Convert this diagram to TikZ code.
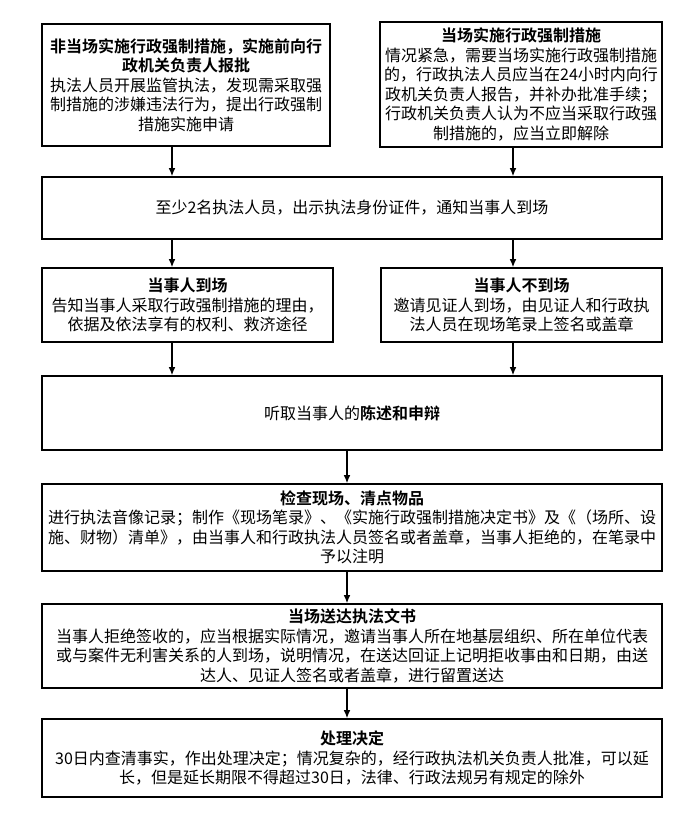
\documentclass[tikz,border=0pt]{standalone}
\usepackage{fontspec}
\setmainfont{Noto Sans CJK SC}[BoldFont={Noto Sans CJK SC Bold}]
\usetikzlibrary{arrows.meta}

\begin{document}
\begin{tikzpicture}[x=0.75pt,y=-0.75pt,
	box/.style={draw,line width=1.2pt,align=center,inner sep=0pt,font=\fontsize{12pt}{14.6pt}\selectfont},
	boxsize/.style 2 args={minimum width=#1*0.75pt,minimum height=#2*0.75pt},
	arr/.style={-{Latex[length=6pt,width=5pt]},line width=0.9pt}]
	\useasboundingbox (0,0) rectangle (689,816);
	% two ways in
	\node[box,boxsize={288}{122}] (pre) at (186,85) {\textbf{非当场实施行政强制措施，实施前向行}\\\textbf{政机关负责人报批}\\执法人员开展监管执法，发现需采取强\\制措施的涉嫌违法行为，提出行政强制\\措施实施申请};
	\node[box,boxsize={282}{125}] (spot) at (521,84.5) {\textbf{当场实施行政强制措施}\\情况紧急，需要当场实施行政强制措施\\的，行政执法人员应当在24小时内向行\\政机关负责人报告，并补办批准手续；\\行政机关负责人认为不应当采取行政强\\制措施的，应当立即解除};
	\node[box,boxsize={620}{62}] (notify) at (352,208) {至少2名执法人员，出示执法身份证件，通知当事人到场};
	% party there or not
	\node[box,boxsize={291}{74}] (present) at (187.5,305) {\textbf{当事人到场}\\告知当事人采取行政强制措施的理由，\\依据及依法享有的权利、救济途径};
	\node[box,boxsize={281}{74}] (absent) at (521.5,305) {\textbf{当事人不到场}\\邀请见证人到场，由见证人和行政执\\法人员在现场笔录上签名或盖章};
	\node[box,boxsize={620}{74}] (hear) at (352,413) {听取当事人的\textbf{陈述和申辩}};
	\node[box,boxsize={620}{87}] (check) at (352,527.5) {\textbf{检查现场、清点物品}\\进行执法音像记录；制作《现场笔录》、《实施行政强制措施决定书》及《（场所、设\\施、财物）清单》，由当事人和行政执法人员签名或者盖章，当事人拒绝的，在笔录中\\予以注明};
	\node[box,boxsize={620}{84}] (serve) at (352,646) {\textbf{当场送达执法文书}\\当事人拒绝签收的，应当根据实际情况，邀请当事人所在地基层组织、所在单位代表\\或与案件无利害关系的人到场，说明情况，在送达回证上记明拒收事由和日期，由送\\达人、见证人签名或者盖章，进行留置送达};
	\node[box,boxsize={620}{78}] (decide) at (352,758) {\textbf{处理决定}\\30日内查清事实，作出处理决定；情况复杂的，经行政执法机关负责人批准，可以延\\长，但是延长期限不得超过30日，法律、行政法规另有规定的除外};
	% arrows
	\coordinate (lx) at (172,0);
	\coordinate (rx) at (513,0);
	\coordinate (mx) at (347,0);
	\draw[arr] (pre.south -| lx) -- (notify.north -| lx);
	\draw[arr] (spot.south -| rx) -- (notify.north -| rx);
	\draw[arr] (notify.south -| lx) -- (present.north -| lx);
	\draw[arr] (notify.south -| rx) -- (absent.north -| rx);
	\draw[arr] (present.south -| lx) -- (hear.north -| lx);
	\draw[arr] (absent.south -| rx) -- (hear.north -| rx);
	\foreach \a/\b in {hear/check,check/serve,serve/decide}
		\draw[arr] (\a.south -| mx) -- (\b.north -| mx);
\end{tikzpicture}
\end{document}
